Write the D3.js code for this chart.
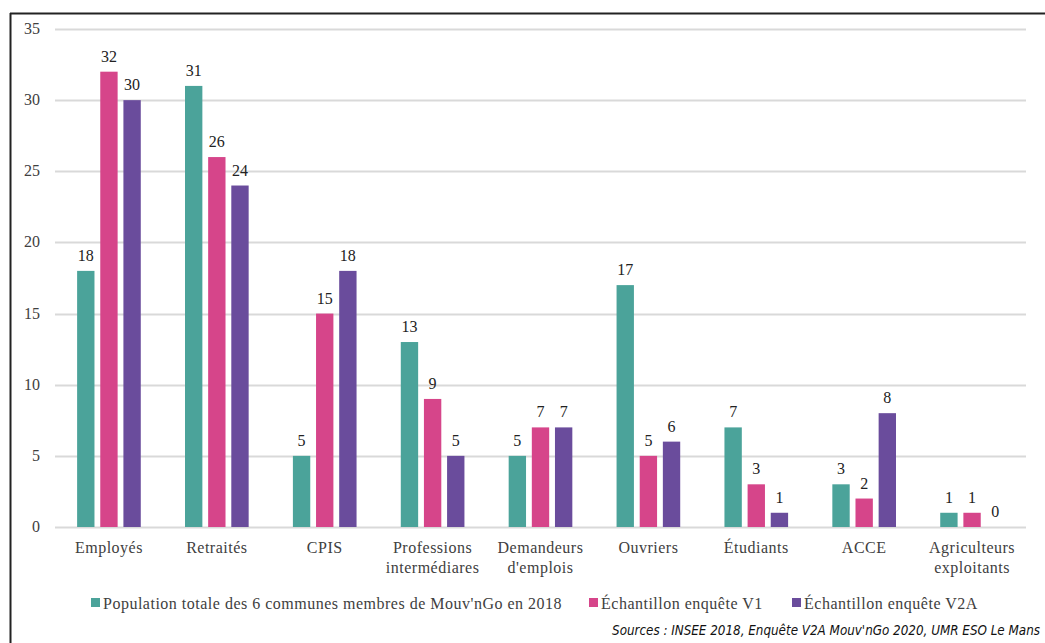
<!DOCTYPE html>
<html><head><meta charset="utf-8">
<script src="https://cdn.jsdelivr.net/npm/d3@7"></script>
<style>body{margin:0;background:#fff}svg{display:block}
.serif{font-family:'Liberation Serif','DejaVu Serif',serif}
.narrow{font-family:'Liberation Sans Narrow','DejaVu Sans Condensed','Roboto Condensed',sans-serif;font-style:italic}
</style>
</head><body>
<script>
const categories = [["Employés"],["Retraités"],["CPIS"],["Professions","intermédiares"],["Demandeurs","d'emplois"],["Ouvriers"],["Étudiants"],["ACCE"],["Agriculteurs","exploitants"]];
const seriesNames = ["Population totale des 6 communes membres de Mouv'nGo en 2018","Échantillon enquête V1","Échantillon enquête V2A"];
const population = [18,31,5,13,5,17,7,3,1];
const enqueteV1 = [32,26,15,9,7,5,3,2,1];
const enqueteV2A = [30,24,18,5,7,6,1,8,0];
const yTicks = [0,5,10,15,20,25,30,35];
const colors = ["#4BA39A","#D6458A","#6A4C9C"];
const source = "Sources : INSEE 2018, Enquête V2A Mouv'nGo 2020, UMR ESO Le Mans";

const W=1045,H=643;
const svg=d3.select("body").append("svg").attr("width",W).attr("height",H);
const tc="#404040";
svg.append("line").attr("x1",10).attr("x2",W).attr("y1",13.5).attr("y2",13.5).attr("stroke","#222").attr("stroke-width",2);
svg.append("line").attr("x1",10.5).attr("x2",10.5).attr("y1",13).attr("y2",H).attr("stroke","#222").attr("stroke-width",2);

const x0=d3.scaleBand().domain(d3.range(categories.length)).range([55,1026]).paddingInner(0.41).paddingOuter(0.205);
const x1=d3.scaleBand().domain([0,1,2]).range([0,x0.bandwidth()]).paddingInner(0.25);
const y=d3.scaleLinear().domain([0,35]).range([527,29]);

const g=svg.append("g");
g.selectAll("line.grid").data(yTicks).join("line").attr("x1",55).attr("x2",1026)
 .attr("y1",d=>Math.round(y(d))+0.5).attr("y2",d=>Math.round(y(d))+0.5).attr("stroke","#d9d9d9").attr("stroke-width",2);
g.selectAll("text.yt").data(yTicks).join("text").attr("class","serif").attr("x",40).attr("y",d=>y(d)+5).attr("text-anchor","end")
 .attr("font-size",16).attr("fill",tc).text(d=>d);

const series=[population,enqueteV1,enqueteV2A];
series.forEach((vals,si)=>{
  const sg=g.append("g");
  sg.selectAll("rect").data(vals).join("rect")
   .attr("x",(d,i)=>x0(i)+x1(si)).attr("width",x1.bandwidth())
   .attr("y",d=>y(d)).attr("height",d=>y(0)-y(d)).attr("fill",colors[si]);
  sg.selectAll("text").data(vals).join("text").attr("class","serif")
   .attr("x",(d,i)=>x0(i)+x1(si)+x1.bandwidth()/2).attr("y",d=>y(d)-10)
   .attr("text-anchor","middle").attr("font-size",16).attr("fill","#222").text(d=>d);
});

categories.forEach((lines,i)=>{
  const t=g.append("text").attr("class","serif").attr("text-anchor","middle").attr("font-size",16).attr("fill",tc).attr("letter-spacing",0.5);
  lines.forEach((l,k)=>t.append("tspan").attr("x",x0(i)+x0.bandwidth()/2).attr("y",553+k*20).text(l));
});

const legX=[91,589,792];
seriesNames.forEach((n,i)=>{
  svg.append("rect").attr("x",legX[i]).attr("y",598).attr("width",9).attr("height",9).attr("fill",colors[i]);
  svg.append("text").attr("class","serif").attr("x",legX[i]+12).attr("y",609).attr("font-size",16).attr("fill",tc).attr("letter-spacing",0.5).text(n);
});
svg.append("text").attr("class","narrow").attr("x",1040).attr("y",635).attr("text-anchor","end")
 .attr("font-size",13.3).attr("fill","#111").text(source);
</script>
</body></html>
